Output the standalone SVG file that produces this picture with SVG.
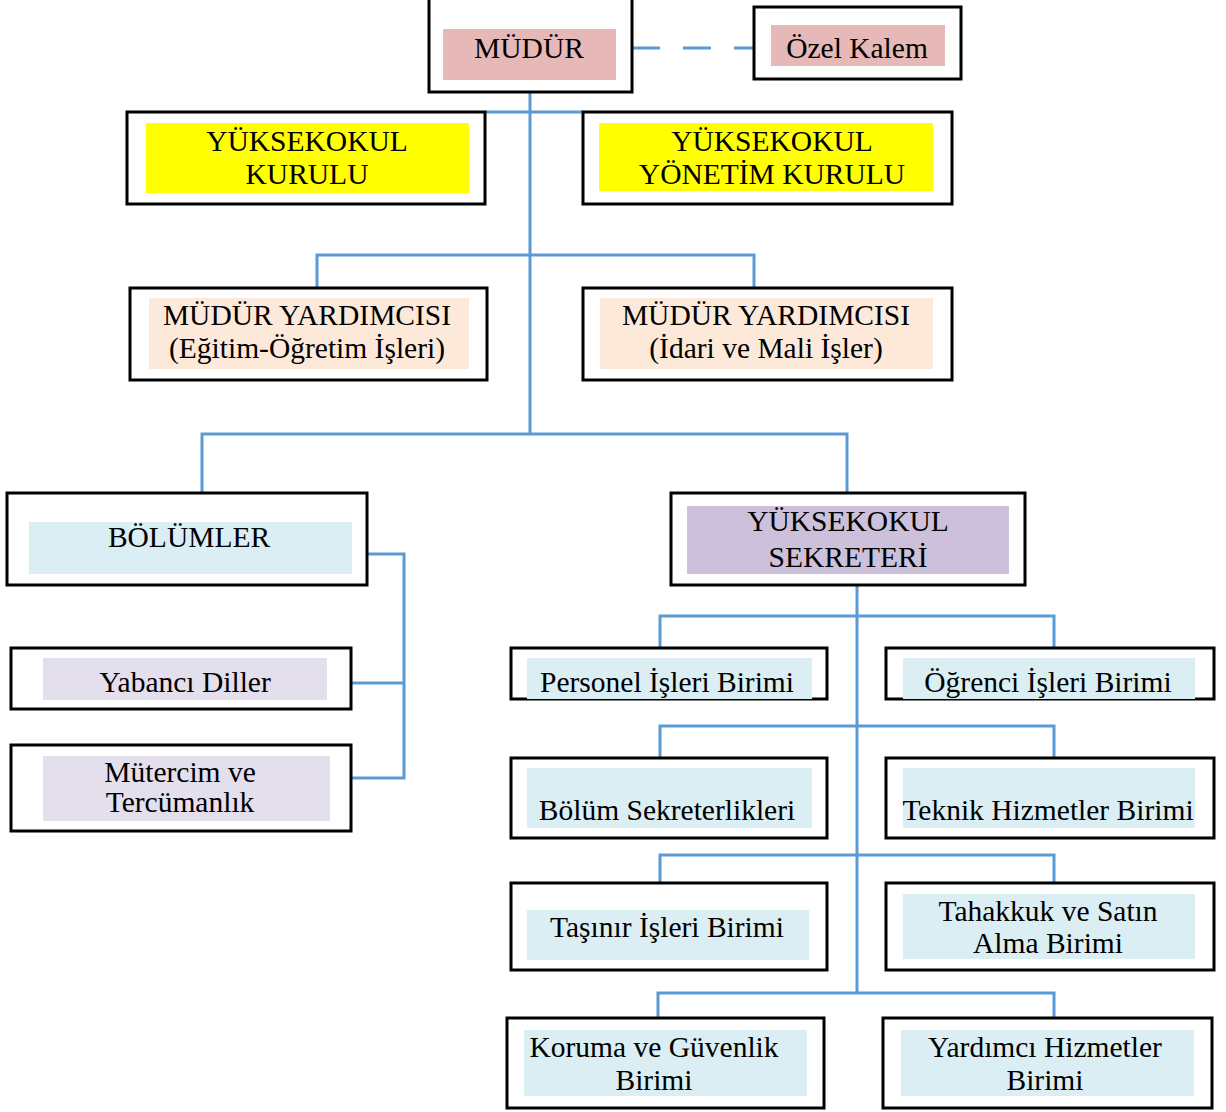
<svg xmlns="http://www.w3.org/2000/svg" width="1226" height="1112" viewBox="0 0 1226 1112">
<style>
.box{fill:#fff;stroke:#000;stroke-width:3}
.t{font-family:"Liberation Serif","Times New Roman",serif;font-size:29.5px;fill:#000;text-anchor:middle}
.c{fill:none;stroke:#5B9BD5;stroke-width:3}
.pink{fill:#E6B8B7}.yel{fill:#FFFF00}.peach{fill:#FDE9D9}.blue{fill:#DAEEF3}.purp{fill:#CCC0DA}.lil{fill:#E4DFEC}
</style>
<rect width="1226" height="1112" fill="#fff"/>
<g id="connectors">
<path class="c" d="M530 92V434"/>
<path class="c" d="M485 112H583"/>
<path class="c" d="M317 288V255H754V288"/>
<path class="c" d="M202 493V434H847V493"/>
<path class="c" d="M367 554H404V778H351M351 683H404"/>
<path class="c" d="M857 585V993"/>
<path class="c" d="M660 648V616H1054V648"/>
<path class="c" d="M660 758V726H1054V758"/>
<path class="c" d="M660 883V855H1054V883"/>
<path class="c" d="M658 1018V993H1054V1018"/>
<path class="c" d="M632 48H754" stroke-dasharray="28 23"/>
</g>
<g id="mudur"><rect class="box" x="429" y="-3" width="203" height="95"/><rect class="pink" x="443" y="29" width="173" height="51"/><text class="t" x="529" y="58">MÜDÜR</text></g>
<g id="ozel-kalem"><rect class="box" x="754" y="7" width="207" height="72"/><rect class="pink" x="771" y="25" width="174" height="41"/><text class="t" x="857" y="58">Özel Kalem</text></g>
<g id="yuksekokul-kurulu"><rect class="box" x="127" y="112" width="358" height="92"/><rect class="yel" x="146" y="123" width="323" height="70"/><text class="t" x="307" y="151">YÜKSEKOKUL</text><text class="t" x="307" y="184">KURULU</text></g>
<g id="yonetim-kurulu"><rect class="box" x="583" y="112" width="369" height="92"/><rect class="yel" x="599" y="123" width="334" height="68"/><text class="t" x="772" y="151">YÜKSEKOKUL</text><text class="t" x="772" y="184">YÖNETİM KURULU</text></g>
<g id="mudur-yard-1"><rect class="box" x="130" y="288" width="357" height="92"/><rect class="peach" x="149" y="298" width="320" height="71"/><text class="t" x="307" y="325">MÜDÜR YARDIMCISI</text><text class="t" x="307" y="358">(Eğitim-Öğretim İşleri)</text></g>
<g id="mudur-yard-2"><rect class="box" x="583" y="288" width="369" height="92"/><rect class="peach" x="600" y="298" width="333" height="71"/><text class="t" x="766" y="325">MÜDÜR YARDIMCISI</text><text class="t" x="766" y="358">(İdari ve Mali İşler)</text></g>
<g id="bolumler"><rect class="box" x="7" y="493" width="360" height="92"/><rect class="blue" x="29" y="522" width="323" height="52"/><text class="t" x="189" y="547">BÖLÜMLER</text></g>
<g id="sekreter"><rect class="box" x="671" y="493" width="354" height="92"/><rect class="purp" x="687" y="506" width="322" height="68"/><text class="t" x="848" y="531">YÜKSEKOKUL</text><text class="t" x="848" y="567">SEKRETERİ</text></g>
<g id="yabanci-diller"><rect class="box" x="11" y="648" width="340" height="61"/><rect class="lil" x="43" y="658" width="284" height="42"/><text class="t" x="185" y="692">Yabancı Diller</text></g>
<g id="mutercim"><rect class="box" x="11" y="745" width="340" height="86"/><rect class="lil" x="43" y="756" width="287" height="65"/><text class="t" x="180" y="782">Mütercim ve</text><text class="t" x="180" y="812">Tercümanlık</text></g>
<g id="personel"><rect class="box" x="511" y="648" width="316" height="51"/><rect class="blue" x="527" y="658" width="285" height="41"/><text class="t" x="667" y="692">Personel İşleri Birimi</text></g>
<g id="ogrenci"><rect class="box" x="886" y="648" width="328" height="51"/><rect class="blue" x="903" y="658" width="292" height="41"/><text class="t" x="1048" y="692">Öğrenci İşleri Birimi</text></g>
<g id="bolum-sekreterlikleri"><rect class="box" x="511" y="758" width="316" height="80"/><rect class="blue" x="527" y="768" width="285" height="60"/><text class="t" x="667" y="820">Bölüm Sekreterlikleri</text></g>
<g id="teknik"><rect class="box" x="886" y="758" width="328" height="80"/><rect class="blue" x="903" y="768" width="292" height="60"/><text class="t" x="1048" y="820">Teknik Hizmetler Birimi</text></g>
<g id="tasinir"><rect class="box" x="511" y="883" width="316" height="87"/><rect class="blue" x="527" y="910" width="282" height="50"/><text class="t" x="667" y="937">Taşınır İşleri Birimi</text></g>
<g id="tahakkuk"><rect class="box" x="886" y="883" width="328" height="87"/><rect class="blue" x="903" y="894" width="292" height="65"/><text class="t" x="1048" y="921">Tahakkuk ve Satın</text><text class="t" x="1048" y="953">Alma Birimi</text></g>
<g id="koruma"><rect class="box" x="507" y="1018" width="317" height="90"/><rect class="blue" x="524" y="1030" width="283" height="66"/><text class="t" x="654" y="1057">Koruma ve Güvenlik</text><text class="t" x="654" y="1090">Birimi</text></g>
<g id="yardimci"><rect class="box" x="883" y="1018" width="329" height="90"/><rect class="blue" x="901" y="1030" width="293" height="66"/><text class="t" x="1045" y="1057">Yardımcı Hizmetler</text><text class="t" x="1045" y="1090">Birimi</text></g>
</svg>
